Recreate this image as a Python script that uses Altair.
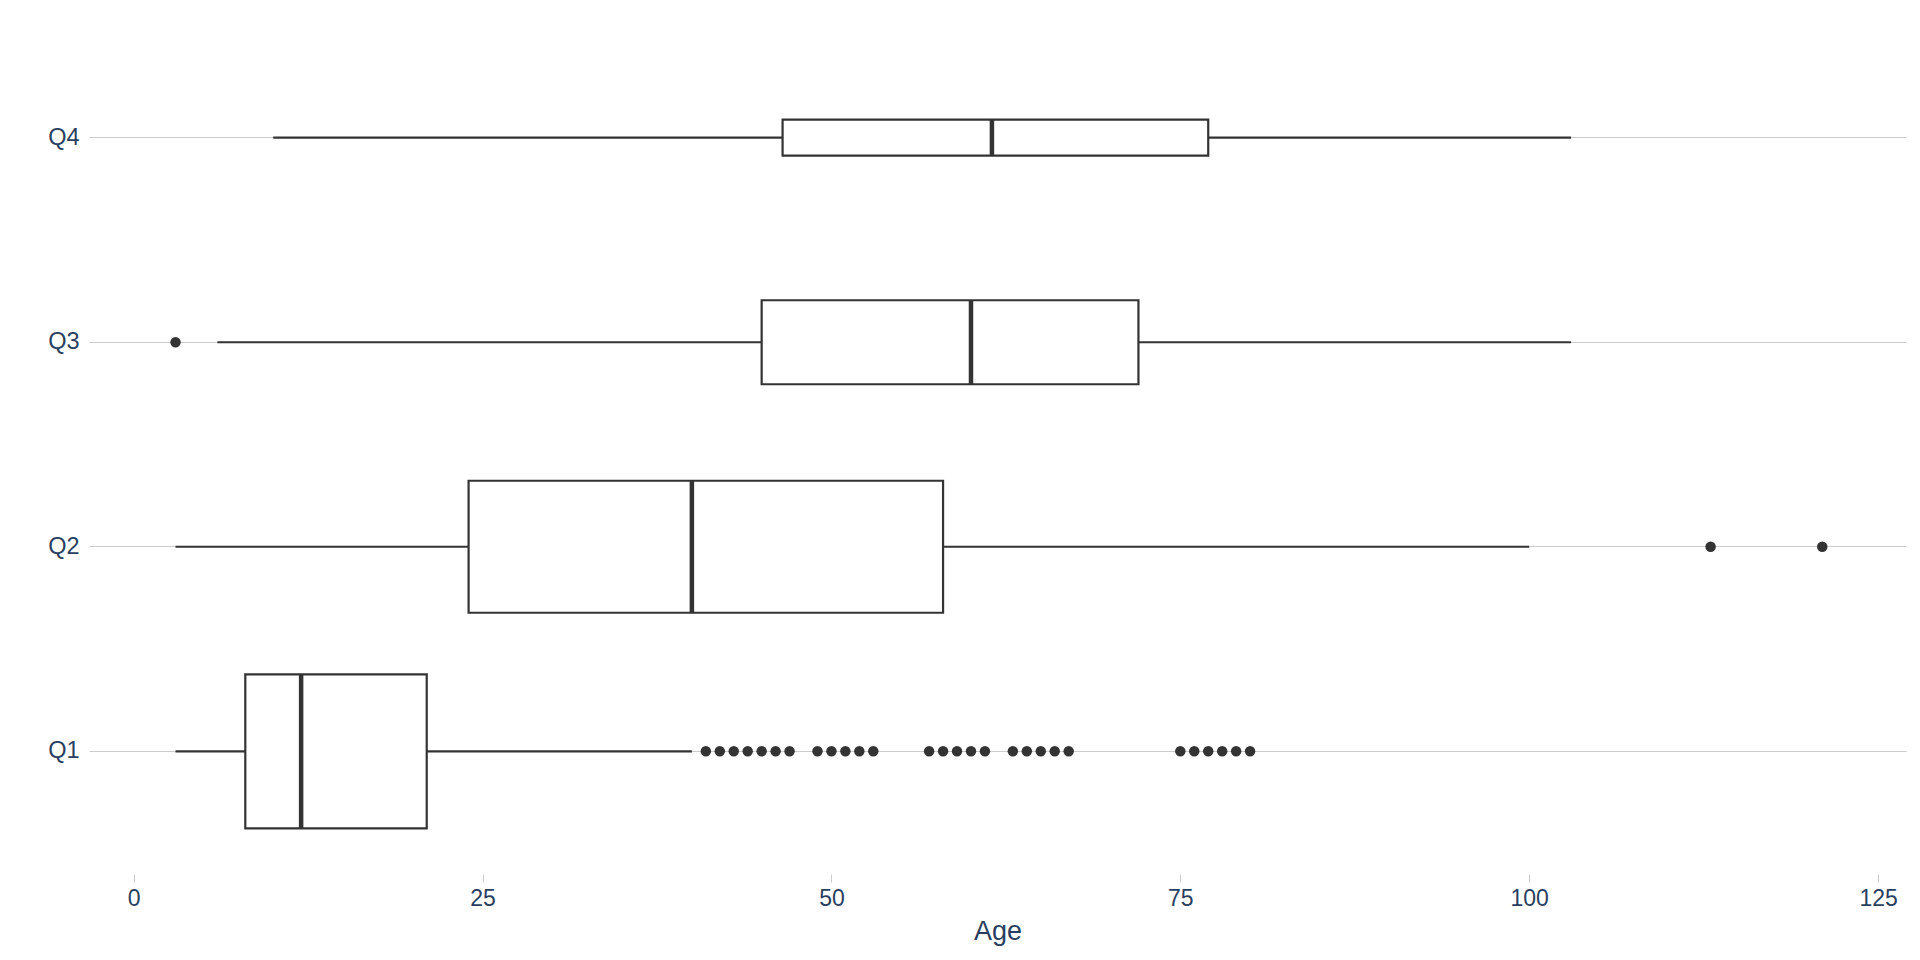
import altair as alt
import pandas as pd

# ---- data ----
categories = ["Q1", "Q2", "Q3", "Q4"]
whisker_low = [3, 3, 6, 10]
box_low = [8, 24, 45, 46.5]
medians = [12, 40, 60, 61.5]
box_high = [21, 58, 72, 77]
whisker_high = [40, 100, 103, 103]

outliers_q1 = [41, 42, 43, 44, 45, 46, 47,
               49, 50, 51, 52, 53,
               57, 58, 59, 60, 61,
               63, 64, 65, 66, 67,
               75, 76, 77, 78, 79, 80]
outliers_q2 = [113, 121]
outliers_q3 = [3]
outliers_q4 = []

# ---- style (box thickness in px, proportional to group size) ----
box_thickness = {"Q1": 154, "Q2": 132, "Q3": 84, "Q4": 36}

LINE = "#333333"
TEXT = "#2A3F5F"
FONT = "Liberation Sans"

stats = pd.DataFrame({
    "cat": categories,
    "wlo": whisker_low,
    "q1": box_low,
    "med": medians,
    "q3": box_high,
    "whi": whisker_high,
})
stats["thick"] = stats["cat"].map(box_thickness)

out_rows = []
for c, vals in zip(categories, [outliers_q1, outliers_q2, outliers_q3, outliers_q4]):
    for v in vals:
        out_rows.append({"cat": c, "age": v})
outliers = pd.DataFrame(out_rows)

x_scale = alt.Scale(domain=[-3.2, 127.0], nice=False, zero=False)
y_scale = alt.Scale(domain=["Q4", "Q3", "Q2", "Q1"], paddingInner=0, paddingOuter=0.1)

x_axis = alt.Axis(values=[0, 25, 50, 75, 100, 125], title="Age", grid=False, domain=False,
                  ticks=True, tickColor="#cccccc", tickSize=8, tickWidth=1,
                  labelFontSize=23, labelColor=TEXT, labelFont=FONT, labelPadding=5,
                  titleFontSize=27, titleColor=TEXT, titleFont=FONT, titleFontWeight="normal",
                  titlePadding=8)
y_axis = alt.Axis(title=None, grid=True, gridColor="#cccccc", gridWidth=1, domain=False,
                  ticks=False, labelFontSize=23.5, labelColor=TEXT, labelFont=FONT,
                  labelPadding=10)

base = alt.Chart(stats)

whiskers = base.mark_rule(color=LINE, strokeWidth=2.2).encode(
    x=alt.X("wlo:Q", scale=x_scale, axis=x_axis),
    x2="whi:Q",
    y=alt.Y("cat:N", scale=y_scale, axis=y_axis),
)

boxes = base.mark_bar(fill="white", stroke=LINE, strokeWidth=2.2).encode(
    x=alt.X("q1:Q", scale=x_scale),
    x2="q3:Q",
    y=alt.Y("cat:N", scale=y_scale),
    size=alt.Size("thick:Q", scale=None, legend=None),
)

med = base.mark_tick(color=LINE, thickness=4.5, opacity=1).encode(
    x=alt.X("med:Q", scale=x_scale),
    y=alt.Y("cat:N", scale=y_scale),
    size=alt.Size("thick:Q", scale=None, legend=None),
)

pts = alt.Chart(outliers).mark_circle(size=110, color=LINE, opacity=1).encode(
    x=alt.X("age:Q", scale=x_scale),
    y=alt.Y("cat:N", scale=y_scale),
)

chart = alt.layer(whiskers, boxes, med, pts).properties(
    width=1817, height=859,
    padding={"left": 89, "top": 15, "right": 14, "bottom": 86},
    autosize=alt.AutoSizeParams(type="none"),
    background="white",
).configure_view(stroke=None)

chart.save("out.html", embed_options={"renderer": "svg", "actions": False})
